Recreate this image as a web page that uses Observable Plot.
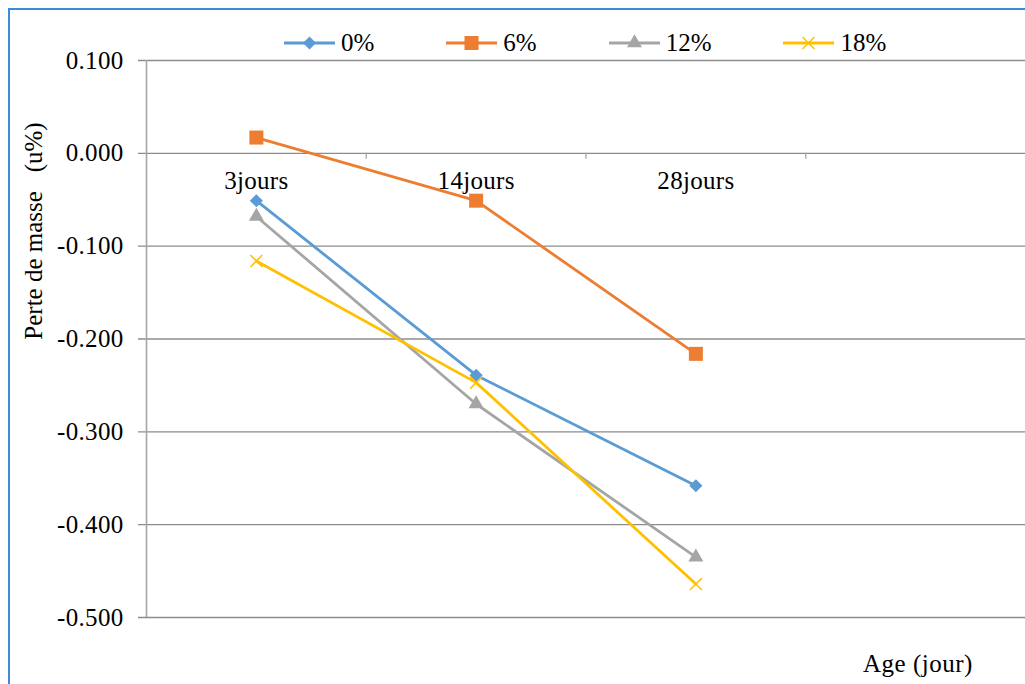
<!DOCTYPE html>
<html><head><meta charset="utf-8">
<script src="https://cdn.jsdelivr.net/npm/d3@7"></script>
<script src="https://cdn.jsdelivr.net/npm/@observablehq/plot@0.6"></script>
<style>
html,body{margin:0;padding:0;background:#fff;}
#wrap{position:relative;width:1025px;height:684px;overflow:hidden;font-family:"Liberation Serif","Times New Roman",serif;color:#000;}
#frame{position:absolute;left:8px;top:8px;width:1100px;height:800px;border-left:2px solid #3C8BD8;border-top:2px solid #3C8BD8;pointer-events:none;}
#legend{position:absolute;left:284px;top:30px;display:flex;align-items:center;font-size:25px;line-height:25px;letter-spacing:0px;}
.item{display:flex;align-items:center;margin-right:72px;}
.item svg{margin-right:6px;display:block;}
#ytitle{position:absolute;left:33px;top:231px;transform:translate(-50%,-50%) rotate(-90deg);white-space:pre;font-size:25px;line-height:25px;letter-spacing:0px;}
#xtitle{position:absolute;left:863px;top:651px;font-size:25px;line-height:25px;letter-spacing:0.5px;white-space:pre;}
#chart{position:absolute;left:0;top:0;}
</style></head>
<body>
<div id="wrap">
  <div id="chart"></div>
  <div id="frame"></div>
  <div id="legend"></div>
  <div id="ytitle"></div>
  <div id="xtitle"></div>
</div>
<script>
const categories = ["3jours", "14jours", "28jours"];
const seriesNames = ["0%", "6%", "12%", "18%"];
const values0 = [-0.051, -0.239, -0.358];
const values6 = [0.017, -0.051, -0.216];
const values12 = [-0.068, -0.270, -0.435];
const values18 = [-0.116, -0.247, -0.464];
const yTicks = [0.1, 0, -0.1, -0.2, -0.3, -0.4, -0.5];
const colors = ["#5B9BD5", "#ED7D31", "#A5A5A5", "#FFC000"];
const symbolNames = ["diamond2", "square", "triangle", "times"];
const markerR = [5.9, 7.9, 5.6, 5.5];
const yTitle = "Perte de masse   (u%)";
const xTitle = "Age (jour)";

const seriesValues = [values0, values6, values12, values18];
const rows = seriesNames.flatMap((name, k) =>
  categories.map((cat, i) => ({series: name, k, cat, idx: i + 0.5, value: seriesValues[k][i]})));

const lineMarks = seriesNames.map((name, k) =>
  Plot.line(rows.filter(r => r.series === name), {x: "idx", y: "value", stroke: colors[k], strokeWidth: 2.8}));
const dotMarks = seriesNames.map((name, k) => {
  const isStroke = symbolNames[k] === "times";
  return Plot.dot(rows.filter(r => r.series === name), {
    x: "idx", y: "value", symbol: () => symbolNames[k], r: markerR[k],
    fill: isStroke ? "none" : colors[k],
    stroke: isStroke ? colors[k] : "none",
    strokeWidth: isStroke ? 1.5 : 0
  });
});

const chart = Plot.plot({
  width: 1025,
  height: 684,
  marginLeft: 146,
  marginRight: 0,
  marginTop: 60,
  marginBottom: 67,
  x: {domain: [0, 4], axis: null},
  y: {domain: [-0.5, 0.1], label: null},
  symbol: {type: "identity"},
  style: {fontFamily: "'Liberation Serif','Times New Roman',serif", fontSize: "25px", letterSpacing: "0.3px", background: "transparent", color: "#000", overflow: "visible"},
  marks: [
    Plot.ruleY(yTicks, {stroke: "#8C8C8C", strokeWidth: 1.3, insetLeft: -8}),
    Plot.ruleX([0], {stroke: "#A6A6A6", strokeWidth: 1.6}),
    Plot.ruleX([1, 2, 3], {y1: 0, y2: 0, insetBottom: -6, stroke: "#A6A6A6", strokeWidth: 1.3}),
    Plot.axisY(yTicks, {tickSize: 0, tickPadding: 23, tickFormat: d => d.toFixed(3), fontSize: 25, label: null}),
    Plot.text(categories, {x: (d, i) => i + 0.5, y: () => 0, text: d => d, dy: 28, fontSize: 25, fill: "#000"}),
    ...lineMarks,
    ...dotMarks
  ]
});
document.getElementById("chart").appendChild(chart);

// legend
const symbolTypes = {diamond2: d3.symbolDiamond2, square: d3.symbolSquare, triangle: d3.symbolTriangle, times: d3.symbolTimes};
const legend = d3.select("#legend");
seriesNames.forEach((name, k) => {
  const item = legend.append("div").attr("class", "item");
  const svg = item.append("svg").attr("width", 51).attr("height", 20);
  svg.append("line").attr("x1", 0).attr("x2", 51).attr("y1", 10).attr("y2", 10)
    .attr("stroke", colors[k]).attr("stroke-width", 2.8);
  const isStroke = symbolNames[k] === "times";
  svg.append("path")
    .attr("transform", "translate(25.5,10)")
    .attr("d", d3.symbol(symbolTypes[symbolNames[k]], markerR[k] * markerR[k] * Math.PI)())
    .attr("fill", isStroke ? "none" : colors[k])
    .attr("stroke", isStroke ? colors[k] : "none")
    .attr("stroke-width", 1.5);
  item.append("span").text(name);
});
document.getElementById("ytitle").textContent = yTitle;
document.getElementById("xtitle").textContent = xTitle;
</script>
</body></html>
